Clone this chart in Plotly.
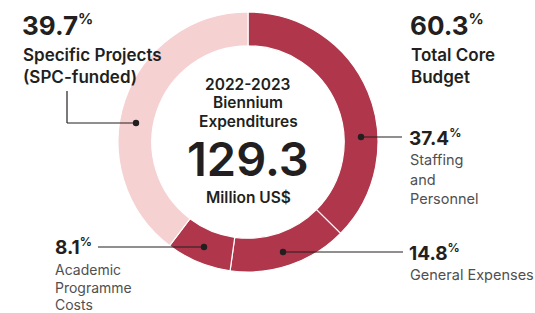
import plotly.graph_objects as go

W, H = 535, 313

# Data
categories = ["Staffing and Personnel", "General Expenses", "Academic Programme Costs", "Specific Projects (SPC-funded)"]
shares = [37.4, 14.8, 8.1, 39.7]
slice_colors = ["#AF364B", "#AF364B", "#AF364B", "#F6D1D2"]
core_share = 60.3
total_expenditure = 129.3

DARK = "#231F20"
GREY = "#505050"
FONT = "Inter"

def px(x):
    return x / W

def py(y):
    return 1 - y / H

fig = go.Figure()
fig.add_trace(go.Pie(
    labels=categories,
    values=shares,
    sort=False,
    direction="clockwise",
    rotation=0,
    hole=0.74,
    marker=dict(colors=slice_colors, line=dict(color="white", width=1.2)),
    textinfo="none",
    hoverinfo="label+value",
    showlegend=False,
    domain=dict(x=[px(118), px(378)], y=[py(272), py(12)]),
))

ann = []

def add(text, x, y, size, color=DARK, weight=400, xanchor="left"):
    ann.append(dict(text=text, x=px(x), y=py(y), xref="paper", yref="paper",
                    xanchor=xanchor, yanchor="middle", showarrow=False,
                    font=dict(family=FONT, size=size, color=color, weight=weight)))

def pct(v, s):
    return f"{v}<sup><span style='font-size:{s}px'>%</span></sup>"

# Top left
add(pct(shares[3], 15), 20, 25, 26, weight=700)
add("Specific Projects", 21, 55, 17, weight=600)
add("(SPC-funded)", 21, 77, 17, weight=600)
# Top right
add(pct(core_share, 15), 408, 25, 26, weight=700)
add("Total Core", 409, 55, 17, weight=600)
add("Budget", 409, 77, 17, weight=600)
# Center
add("2022-2023", 248, 85, 15.5, weight=600, xanchor="center")
add("Biennium", 248, 103, 15.5, weight=600, xanchor="center")
add("Expenditures", 248, 121, 15.5, weight=600, xanchor="center")
add(f"{total_expenditure}", 248, 158, 47, weight=600, xanchor="center")
add("Million US$", 248, 197, 15.5, weight=600, xanchor="center")
# Staffing
add(pct(shares[0], 12), 407, 138, 19, weight=700)
add("Staffing", 408, 160, 14.5, color=GREY)
add("and", 408, 179, 14.5, color=GREY)
add("Personnel", 408, 198, 14.5, color=GREY)
# General
add(pct(shares[1], 12), 407, 252, 19, weight=700)
add("General Expenses", 408, 274, 14.5, color=GREY)
# Academic
add(pct(shares[2], 12), 53, 246, 19, weight=700)
add("Academic", 53, 269, 14, color=GREY)
add("Programme", 53, 287, 14, color=GREY)
add("Costs", 53, 304, 14, color=GREY)

shapes = []

def line(x0, y0, x1, y1):
    shapes.append(dict(type="line", xref="paper", yref="paper",
                       x0=px(x0), y0=py(y0), x1=px(x1), y1=py(y1),
                       line=dict(color=DARK, width=1.2)))

def dot(x, y, r=3.2):
    shapes.append(dict(type="circle", xref="paper", yref="paper",
                       x0=px(x - r), x1=px(x + r), y0=py(y + r), y1=py(y - r),
                       fillcolor=DARK, line=dict(width=0)))

line(361, 137, 402, 137); dot(361, 137)
line(283, 252, 403, 252); dot(283, 252)
line(98, 247, 204, 247); dot(204, 247)
line(67, 91, 67, 123); line(67, 123, 136, 123); dot(136, 123)

fig.update_layout(
    width=W, height=H,
    margin=dict(l=0, r=0, t=0, b=0),
    paper_bgcolor="white", plot_bgcolor="white",
    annotations=ann, shapes=shapes,
)

fig.write_html("out.html", config={"displayModeBar": False},
               post_script="document.body.style.margin='0px';document.body.style.overflow='hidden';")
